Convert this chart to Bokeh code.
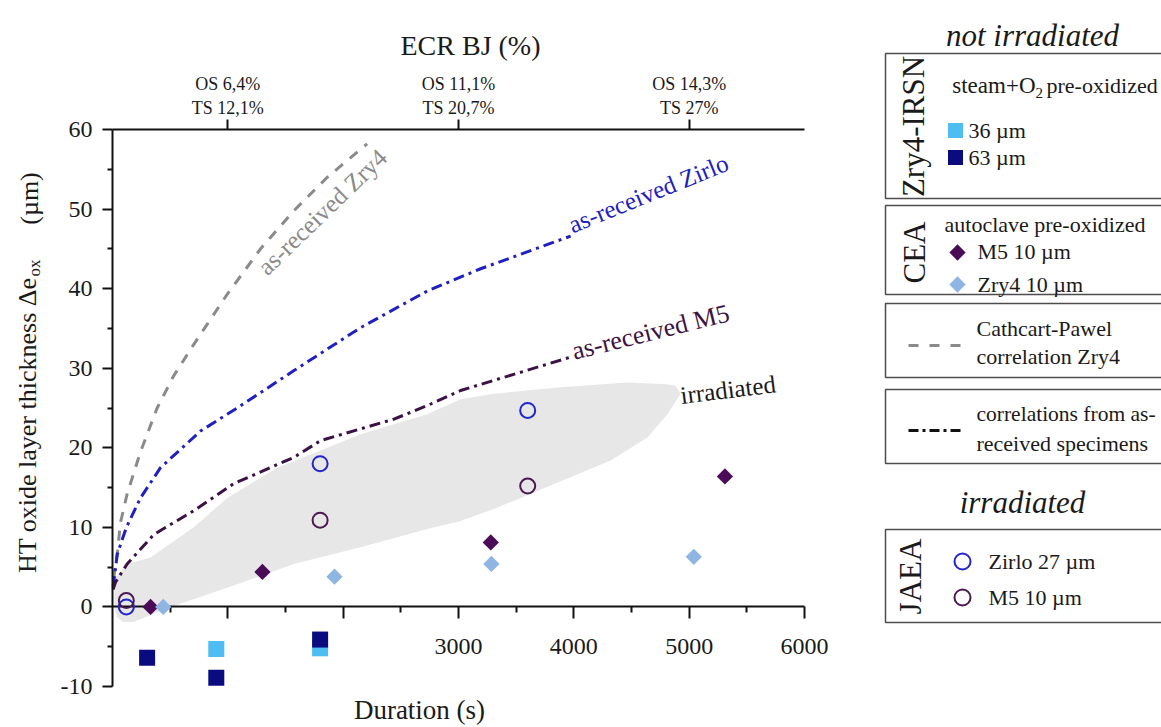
import math
from bokeh.plotting import figure
from bokeh.models import Range1d, LinearAxis, FixedTicker
from bokeh.embed import file_html
from bokeh.resources import INLINE
from bokeh.core.properties import value

# ---------------- data ----------------
# correlations (duration s, HT oxide thickness um)
cp_t = [10, 43, 69, 127, 243, 387, 529, 705, 995, 1284, 1573, 1862, 2208]
cp_y = [3.6, 6.9, 10.6, 14.2, 19.5, 25.0, 29.0, 33.0, 39.3, 45.0, 49.8, 54.0, 58.2]

zirlo_t = [5, 41, 120, 243, 416, 763, 1081, 1573, 2151, 2729, 3192, 3972]
zirlo_y = [2.5, 6.6, 10.0, 13.7, 17.5, 22.1, 25.0, 29.7, 35.1, 39.7, 42.5, 46.6]

m5_t = [5, 26, 127, 358, 705, 1052, 1573, 1804, 2440, 2729, 3018, 3972]
m5_y = [2.2, 3.1, 5.4, 9.1, 12.1, 15.5, 18.8, 20.9, 23.6, 25.3, 27.2, 31.4]

# "irradiated" envelope
band_t = [20, 15, 40, 90, 180, 300, 503, 995, 1573, 2151, 2729, 3018, 3307, 3886,
          4319, 4638, 4811, 4926, 4880, 4811, 4464, 3886, 3307, 3018, 2729, 2151,
          1862, 1428, 995, 705, 330, 127, 26]
band_y = [3.5, 0.0, -1.3, -1.9, -1.9, -1.2, 0.0, 2.4, 5.4, 7.5, 9.8, 10.8, 12.3, 15.8,
          18.4, 21.3, 24.2, 26.8, 27.8, 28.0, 28.2, 27.6, 26.8, 26.1, 24.2, 21.7,
          20.0, 17.5, 13.7, 10.0, 6.2, 5.4, 3.7]

# Zry4-IRSN steam+O2 pre-oxidized
irsn36_t = [900, 1800]
irsn36_y = [-5.3, -5.2]
irsn63_t = [300, 900, 1800]
irsn63_y = [-6.4, -8.9, -4.1]

# CEA autoclave pre-oxidized
cea_m5_t = [330, 1300, 3280, 5310]
cea_m5_y = [0.0, 4.4, 8.1, 16.4]
cea_zry4_t = [440, 1925, 3285, 5040]
cea_zry4_y = [0.0, 3.8, 5.4, 6.3]

# JAEA irradiated
jaea_zirlo_t = [120, 1800, 3600]
jaea_zirlo_y = [0.0, 18.0, 24.7]
jaea_m5_t = [120, 1800, 3600]
jaea_m5_y = [0.8, 10.9, 15.2]

# axes
x_major = [1000, 2000, 3000, 4000, 5000, 6000]
x_minor = [500, 1500, 2500, 3500, 4500, 5500]
x_hidden = [1000, 2000]
y_major = [-10, 0, 10, 20, 30, 40, 50, 60]
y_minor = [-5, 5, 15, 25, 35, 45, 55]
top_ticks = [1000, 3000, 5000]
top_labels = ["OS 6,4%\nTS 12,1%", "OS 11,1%\nTS 20,7%", "OS 14,3%\nTS 27%"]

# ---------------- styles ----------------
FONT = "Liberation Serif"
TXT = "#1a1a1a"
C_LBLUE_SQ = "#4dbdf2"
C_NAVY = "#0b0b80"
C_M5_D = "#4b0c57"
C_ZRY_D = "#8fb5e3"
C_ZIRLO = "#2424cc"
C_M5_C = "#4a1a50"
C_CP = "#8a8a8a"
C_ZIRLO_L = "#2020c0"
C_M5_L = "#3b1244"
C_BAND = "#e7e7e7"

W, H = 1161, 727
FL, FR, FT, FB = 112, 804, 129, 686   # pixel positions of x=0, x=6000, y=60, y=-10
X0, X1, Y0, Y1 = 0, 6000, -10, 60


def dx(px):
    return X0 + (px - FL) / (FR - FL) * (X1 - X0)


def dy(py):
    return Y1 - (py - FT) / (FB - FT) * (Y1 - Y0)


p = figure(width=W, height=H, x_range=Range1d(dx(0), dx(W)), y_range=Range1d(dy(H), dy(0)),
           output_backend="svg", toolbar_location=None,
           x_axis_location=None, y_axis_location=None, min_border=0)
p.grid.visible = False
p.outline_line_color = None
p.background_fill_color = "white"
p.border_fill_color = "white"


def style_axis(ax, tick_out, minor_out, standoff, size):
    ax.axis_line_width = 2
    ax.axis_line_color = "#111111"
    ax.major_tick_line_width = 2
    ax.minor_tick_line_width = 2
    ax.major_tick_line_color = "#111111"
    ax.minor_tick_line_color = "#111111"
    ax.major_tick_in = 0
    ax.major_tick_out = tick_out
    ax.minor_tick_in = 0
    ax.minor_tick_out = minor_out
    ax.major_label_standoff = standoff
    ax.major_label_text_font = FONT
    ax.major_label_text_font_size = size
    ax.major_label_text_color = TXT


# bottom axis at y = 0
xa = LinearAxis(fixed_location=0, bounds=(X0, X1),
                ticker=FixedTicker(ticks=x_major, minor_ticks=x_minor),
                major_label_overrides={t: "" for t in x_hidden}, level="underlay")
style_axis(xa, 12, 6, 20, "24px")
p.add_layout(xa, "below")

# left axis at x = 0
ya = LinearAxis(fixed_location=0, bounds=(Y0, Y1),
                ticker=FixedTicker(ticks=y_major, minor_ticks=y_minor),
                major_label_overrides={t: str(t) for t in y_major})
style_axis(ya, 10, 5, 10, "24px")
p.add_layout(ya, "left")

# top axis at y = 60
ta = LinearAxis(fixed_location=Y1, bounds=(X0, X1),
                ticker=FixedTicker(ticks=top_ticks, minor_ticks=[]),
                major_label_overrides=dict(zip(top_ticks, top_labels)))
style_axis(ta, 10, 0, 2, "18px")
p.add_layout(ta, "above")

# envelope and correlations
p.patch(band_t, band_y, fill_color=C_BAND, line_color=None, level="image")
p.line(cp_t, cp_y, line_color=C_CP, line_width=3, line_dash="10 9")
p.line(zirlo_t, zirlo_y, line_color=C_ZIRLO_L, line_width=3, line_dash="11 5 3 5")
p.line(m5_t, m5_y, line_color=C_M5_L, line_width=3, line_dash="11 5 3 5")

# markers
p.scatter(irsn36_t, irsn36_y, marker="square", size=16, fill_color=C_LBLUE_SQ, line_color=None)
p.scatter(irsn63_t, irsn63_y, marker="square", size=16, fill_color=C_NAVY, line_color=None)
p.scatter(cea_m5_t, cea_m5_y, marker="square", angle=math.pi / 4, size=11.5,
          fill_color=C_M5_D, line_color=None)
p.scatter(cea_zry4_t, cea_zry4_y, marker="square", angle=math.pi / 4, size=11.5,
          fill_color=C_ZRY_D, line_color=None)
p.scatter(jaea_zirlo_t, jaea_zirlo_y, marker="circle", size=15, fill_color=None,
          line_color=C_ZIRLO, line_width=2)
p.scatter(jaea_m5_t, jaea_m5_y, marker="circle", size=15, fill_color=None,
          line_color=C_M5_C, line_width=2)


def txt(px, py, texts, size, color=TXT, angle=0.0, align="left", style="normal"):
    p.text([dx(v) for v in px], [dy(v) for v in py], text=texts,
           text_font=value(FONT), text_font_size=size, text_color=color,
           text_align=align, text_baseline="middle", angle=math.radians(angle),
           text_font_style=style)


# curve labels (positions are the text's middle line start)
txt([261], [270], ["as-received Zry4"], "25px", C_CP, angle=44)
txt([569], [225], ["as-received Zirlo"], "25px", C_ZIRLO_L, angle=22)
txt([572], [351], ["as-received M5"], "26px", C_M5_L, angle=14)
txt([680], [395], ["irradiated"], "25px", TXT, angle=7)

# axis titles
txt([27], [277], ["HT oxide layer thickness \u0394e"], "26px", angle=90, align="right")
txt([34], [276], ["ox"], "17px", angle=90, align="left")
txt([29], [198], ["(\u00b5m)"], "26px", angle=90, align="center")
txt([419], [709], ["Duration (s)"], "27px", align="center")
txt([470], [45], ["ECR BJ (%)"], "28px", align="center")

# ---------------- legend ----------------
box_tops = [53, 205, 303, 389, 529]
box_bottoms = [198, 294, 377, 463, 622]
p.quad(left=[dx(885)] * 5, right=[dx(W + 20)] * 5, top=[dy(v) for v in box_tops],
       bottom=[dy(v) for v in box_bottoms], fill_color=None, line_color="#4d4d4d",
       line_width=1.5)

txt([1032, 1022], [35, 502], ["not irradiated", "irradiated"], "31px",
    align="center", style="italic")
txt([913, 914, 910], [126, 252, 576], ["Zry4-IRSN", "CEA", "JAEA"], "31px",
    align="center", angle=90)
txt([1035], [85], ["steam+O"], "23px", align="right")
txt([1035], [92], ["2"], "15px")
txt([1046, 944], [85, 224], ["pre-oxidized", "autoclave pre-oxidized"], "22px")
txt([968, 968, 977, 977, 976, 976, 976, 988, 988],
    [130, 157, 251, 284, 328, 356, 443, 561, 597],
    ["36 \u00b5m", "63 \u00b5m", "M5 10 \u00b5m", "Zry4 10 \u00b5m", "Cathcart-Pawel",
     "correlation Zry4", "received specimens",
     "Zirlo 27 \u00b5m", "M5 10 \u00b5m"], "22px")
txt([976], [413], ["correlations from as-"], "21.5px")

p.scatter([dx(955)], [dy(130)], marker="square", size=15, fill_color=C_LBLUE_SQ, line_color=None)
p.scatter([dx(955)], [dy(157)], marker="square", size=15, fill_color=C_NAVY, line_color=None)
p.scatter([dx(957)], [dy(252)], marker="square", angle=math.pi / 4, size=11.5,
          fill_color=C_M5_D, line_color=None)
p.scatter([dx(957)], [dy(284)], marker="square", angle=math.pi / 4, size=11.5,
          fill_color=C_ZRY_D, line_color=None)
p.scatter([dx(962)], [dy(561)], marker="circle", size=16, fill_color=None,
          line_color=C_ZIRLO, line_width=2)
p.scatter([dx(962)], [dy(597)], marker="circle", size=16, fill_color=None,
          line_color=C_M5_C, line_width=2)
p.line([dx(908), dx(962)], [dy(345), dy(345)], line_color=C_CP, line_width=3,
       line_dash="10 11")
p.line([dx(908), dx(962)], [dy(430), dy(430)], line_color="#111111", line_width=3,
       line_dash="10 4 3 4")

open("out.html", "w").write(file_html(p, INLINE))
